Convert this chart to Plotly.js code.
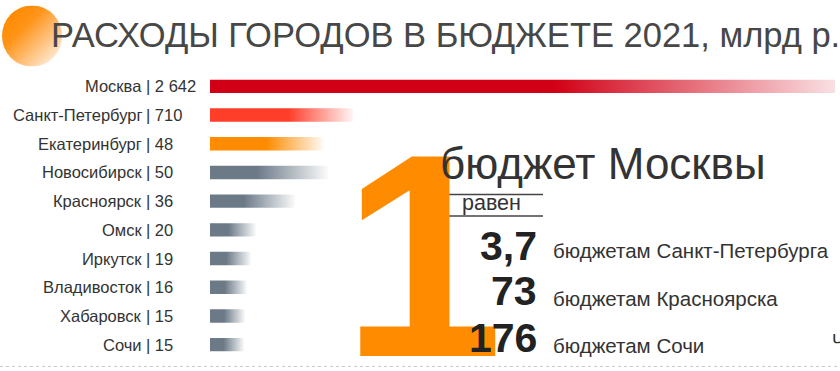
<!DOCTYPE html>
<html><head><meta charset="utf-8">
<script src="https://cdn.plot.ly/plotly-3.0.1.min.js"></script>
<style>html,body{margin:0;padding:0;background:#fff}#chart{width:840px;height:371px}</style>
</head><body><div id="chart"></div>
<script>
// ---- data ----
const cities = ['Москва','Санкт-Петербург','Екатеринбург','Новосибирск','Красноярск','Омск','Иркутск','Владивосток','Хабаровск','Сочи'];
const spending = [2642, 710, 48, 50, 36, 20, 19, 16, 15, 15];           // млрд р. (as labelled)
const barLength = [625, 143, 113, 118, 85, 46, 41, 37, 35, 34];          // drawn bar length (as in picture)
const ratioValues = ['3,7', '73', '176'];
const ratioTexts = ['бюджетам Санкт-Петербурга', 'бюджетам Красноярска', 'бюджетам Сочи'];

// ---- styles ----
const W = 840, H = 371, ML = 210, MR = 0, MT = 72.4, MB = 12.4;
const PW = W - ML - MR, PH = H - MT - MB;
const FONT = '"Liberation Sans", Arial, Helvetica, sans-serif';
function px(x){ return (x - ML) / PW; }
function py(y){ return (H - MB - y) / PH; }
function fmt(v){ return String(v).replace(/\B(?=(\d{3})+(?!\d))/g, ' '); }
function grad(rgb, solidTo, endAlpha){
  return [[0, 'rgba(' + rgb + ',1)'], [solidTo, 'rgba(' + rgb + ',1)'], [1, 'rgba(' + rgb + ',' + endAlpha + ')']];
}
const styleByRank = i => i === 0 ? grad('210,0,22', 0.55, 0.12)
                    : i === 1 ? grad('255,62,42', 0.55, 0.05)
                    : i === 2 ? grad('255,140,0', 0.5, 0.05)
                    : grad('108,122,136', 0.4, 0.03);

const half = 0.233;
const traces = cities.map((c, i) => ({
  type: 'scatter', mode: 'none', fill: 'toself', hoverinfo: 'skip', showlegend: false,
  x: [0, barLength[i], barLength[i], 0, 0],
  y: [i - half, i - half, i + half, i + half, i - half],
  fillcolor: styleByRank(i)[0][1],
  fillgradient: {type: 'horizontal', colorscale: styleByRank(i)}
}));

const annotations = [];
function textAt(t, x, baseline, fs, opts){
  const o = Object.assign({weight: 400, color: '#333', anchor: 'left'}, opts || {});
  annotations.push({
    xref: 'paper', yref: 'paper', x: px(x), y: py(baseline - 0.3465 * fs),
    xanchor: o.anchor, yanchor: 'middle', text: t, showarrow: false, borderpad: 0,
    font: {family: FONT, size: fs, color: o.color, weight: o.weight}
  });
}
textAt('1', 341, 355, 290, {weight: 700, color: '#FF8C00'});

const LFS = 16.5;
cities.forEach((c, i) => {
  annotations.push({
    x: 0, y: i, xref: 'x', yref: 'y', xanchor: 'right', yanchor: 'middle', xshift: -67,
    text: c, showarrow: false, borderpad: 0, font: {family: FONT, size: LFS, color: '#333'}
  });
  annotations.push({
    x: 0, y: i, xref: 'x', yref: 'y', xanchor: 'left', yanchor: 'middle', xshift: -65,
    text: '| ' + fmt(spending[i]), showarrow: false, borderpad: 0, font: {family: FONT, size: LFS, color: '#333'}
  });
});

textAt('бюджет Москвы', 439, 179, 44, {color: '#333'});
textAt('равен', 461, 210, 21.5, {color: '#333'});
const baseNums = [260, 305, 352], baseTxt = [258, 305, 352];
ratioValues.forEach((v, k) => {
  textAt(v, 538, baseNums[k], 41, {weight: 700, color: '#222', anchor: 'right'});
  textAt(ratioTexts[k], 552, baseTxt[k], 20.5, {color: '#333'});
});
textAt('Ч', 831, 347, 18, {color: '#333'});

const shapes = [
  {type: 'line', xref: 'paper', yref: 'paper', x0: px(441), x1: px(543), y0: py(194.5), y1: py(194.5), line: {color: '#444', width: 1.5}},
  {type: 'line', xref: 'paper', yref: 'paper', x0: px(441), x1: px(543), y0: py(216), y1: py(216), line: {color: '#444', width: 1.5}},
  {type: 'line', xref: 'paper', yref: 'paper', x0: px(0), x1: px(840), y0: py(366), y1: py(366), line: {color: '#c8c8c8', width: 1, dash: 'dot'}}
];

const circleSvg = '<svg xmlns="http://www.w3.org/2000/svg" width="60" height="60" viewBox="0 0 60 60">' +
  '<defs><linearGradient id="g" x1="0.1" y1="0.15" x2="0.9" y2="0.95">' +
  '<stop offset="0" stop-color="#FF8A00"/><stop offset="0.3" stop-color="#FF9418"/><stop offset="1" stop-color="#FFF0E2"/>' +
  '</linearGradient></defs><circle cx="30" cy="30" r="30" fill="url(#g)"/></svg>';

const layout = {
  width: W, height: H, margin: {l: ML, r: MR, t: MT, b: MB, pad: 0},
  paper_bgcolor: '#fff', plot_bgcolor: 'rgba(0,0,0,0)',
  title: {text: 'РАСХОДЫ ГОРОДОВ В БЮДЖЕТЕ 2021, млрд р.', x: 51 / W, xanchor: 'left',
          xref: 'container', yref: 'container', y: 1 - (47 - 0.3465 * 34.5) / H, yanchor: 'middle',
          font: {family: FONT, size: 34.5, color: '#474747'}},
  xaxis: {range: [0, PW], visible: false, fixedrange: true},
  yaxis: {range: [cities.length - 0.5, -0.5], visible: false, fixedrange: true},
  annotations: annotations, shapes: shapes,
  images: [{source: 'data:image/svg+xml;charset=utf-8,' + encodeURIComponent(circleSvg),
            xref: 'paper', yref: 'paper', x: px(2), y: py(6), sizex: 60 / PW, sizey: 61 / PH,
            xanchor: 'left', yanchor: 'top', sizing: 'stretch', layer: 'below'}],
  showlegend: false
};
Plotly.newPlot('chart', traces, layout, {displayModeBar: false, staticPlot: true});
</script></body></html>
